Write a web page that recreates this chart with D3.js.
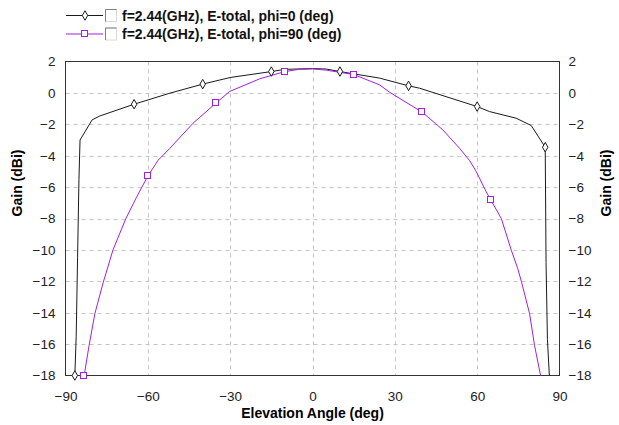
<!DOCTYPE html>
<html>
<head>
<meta charset="utf-8">
<script src="https://cdn.jsdelivr.net/npm/d3@7"></script>
<style>
  html, body { margin: 0; padding: 0; background: #fff; }
  svg { display: block; }
  text { font-family: "Liberation Sans", Arial, sans-serif; }
</style>
</head>
<body>
<svg id="chart" width="619" height="425"></svg>
<script>
// Elevation cut, phi = 0 deg: [angle (deg), gain (dBi)]
const phi0 = [
  [-86.6, -18], [-86.1, -15.5], [-85.6, -10.5], [-85.1, -5.5], [-84.7, -3.0],
  [-80.3, -1.72], [-77.5, -1.47], [-65, -0.72], [-52, -0.02], [-40, 0.56],
  [-30, 0.98], [-15, 1.36], [-10, 1.5], [0, 1.55], [5, 1.52], [10, 1.36],
  [24.5, 0.94], [35, 0.45], [39, 0.30], [60, -0.87], [64.5, -1.19],
  [74.2, -1.61], [79.7, -2.08], [84.8, -3.46], [85.1, -10.8], [85.6, -15.7],
  [86.3, -18]
];
// Elevation cut, phi = 90 deg
const phi90 = [
  [-83.2, -18], [-81.4, -16.08], [-79.3, -14.06], [-76.3, -12.1], [-72.7, -10.0],
  [-68, -8.0], [-64, -6.6], [-60, -5.3], [-56.3, -4.3], [-52, -3.53],
  [-43.5, -1.93], [-35, -0.62], [-30.2, 0.09], [-19.2, 0.9], [-10, 1.36],
  [-5, 1.5], [0, 1.53], [5, 1.45], [15, 1.17], [24.5, 0.51], [28, 0.05],
  [40, -1.23], [47.5, -2.36], [53.6, -3.53], [57.2, -4.3], [59.7, -5.02],
  [63.3, -6.3], [65, -6.83], [68.8, -8.0], [72.4, -10.0], [74.8, -11.2],
  [76.1, -12.0], [79.1, -14.06], [80.9, -16.08], [83.1, -18]
];
// Angles that carry a marker on each trace
const phi0Marks = [-86.6, -65, -40, -15, 10, 35, 60, 84.8];
const phi90Marks = [-83.2, -60, -35, -10, 15, 40, 65];

const xTicks = [-90, -60, -30, 0, 30, 60, 90];
const yTicks = [2, 0, -2, -4, -6, -8, -10, -12, -14, -16, -18];
const legendLabels = [
  "f=2.44(GHz), E-total, phi=0 (deg)",
  "f=2.44(GHz), E-total, phi=90 (deg)"
];
const xTitle = "Elevation Angle (deg)";
const yTitle = "Gain (dBi)";

const colors = ["#1a1a1a", "#a020e0"];

const svg = d3.select("#chart");
const x = d3.scaleLinear().domain([-90, 90]).range([65.5, 559.5]);
const y = d3.scaleLinear().domain([-18, 2]).range([375.5, 61.5]);

// clip for the traces
svg.append("clipPath").attr("id", "plotClip")
  .append("rect")
  .attr("x", x(-90)).attr("y", y(2) - 4)
  .attr("width", x(90) - x(-90)).attr("height", y(-18) - y(2) + 8);

// dashed grid
const grid = svg.append("g");
grid.selectAll("line.v").data(xTicks.slice(1, -1)).join("line")
  .attr("x1", d => Math.round(x(d)) + 0.5).attr("x2", d => Math.round(x(d)) + 0.5)
  .attr("y1", y(2)).attr("y2", y(-18))
  .attr("stroke", "#c4c4c4").attr("stroke-dasharray", "4,4");
grid.selectAll("line.h").data(yTicks.slice(1, -1)).join("line")
  .attr("y1", d => Math.round(y(d)) + 0.5).attr("y2", d => Math.round(y(d)) + 0.5)
  .attr("x1", x(-90)).attr("x2", x(90))
  .attr("stroke", "#c4c4c4").attr("stroke-dasharray", "4,4");

// frame
svg.append("rect")
  .attr("x", x(-90)).attr("y", y(2))
  .attr("width", x(90) - x(-90)).attr("height", y(-18) - y(2))
  .attr("fill", "none").attr("stroke", "#333").attr("stroke-width", 1);

// axes (labels only)
const axL = d3.axisLeft(y).tickValues(yTicks).tickSize(0).tickPadding(10);
const axR = d3.axisRight(y).tickValues(yTicks).tickSize(0).tickPadding(9);
const axB = d3.axisBottom(x).tickValues(xTicks).tickSize(0).tickPadding(16);
function styleAxis(g) {
  g.select(".domain").remove();
  g.selectAll("text").attr("font-size", 13.5).attr("fill", "#222")
    .attr("font-family", "\"Liberation Sans\", Arial, sans-serif");
}
svg.append("g").attr("transform", `translate(${x(-90)},0)`).call(axL).call(styleAxis);
svg.append("g").attr("transform", `translate(${x(90)},0)`).call(axR).call(styleAxis);
svg.append("g").attr("transform", `translate(0,${y(-18)})`).call(axB).call(styleAxis);

// axis titles
svg.append("text").attr("x", (x(-90) + x(90)) / 2).attr("y", 418)
  .attr("text-anchor", "middle").attr("font-size", 14).attr("font-weight", "bold")
  .text(xTitle);
svg.append("text").attr("transform", "translate(22,183) rotate(-90)")
  .attr("text-anchor", "middle").attr("font-size", 14).attr("font-weight", "bold")
  .text(yTitle);
svg.append("text").attr("transform", "translate(611,183) rotate(-90)")
  .attr("text-anchor", "middle").attr("font-size", 14).attr("font-weight", "bold")
  .text(yTitle);

// traces
const line = d3.line().x(d => x(d[0])).y(d => y(d[1]));
const plot = svg.append("g").attr("clip-path", "url(#plotClip)");
[phi0, phi90].forEach((s, i) => {
  plot.append("path").datum(s).attr("d", line)
    .attr("fill", "none").attr("stroke", colors[i]).attr("stroke-width", 1);
});

const diamond = d3.symbol().type(d3.symbolDiamond).size(26);
function drawDiamond(g, cx, cy) {
  g.append("path").attr("d", diamond())
    .attr("transform", `translate(${cx},${cy})`)
    .attr("fill", "#fff").attr("stroke", colors[0]).attr("stroke-width", 1);
}
function drawSquare(g, cx, cy) {
  g.append("rect").attr("x", Math.round(cx) - 3.5).attr("y", Math.round(cy) - 3.5)
    .attr("width", 6).attr("height", 6)
    .attr("fill", "#fff").attr("stroke", colors[1]).attr("stroke-width", 1);
}
const mk = svg.append("g");
phi0Marks.forEach(a => {
  const p = phi0.find(d => d[0] === a);
  drawDiamond(mk, x(p[0]), y(p[1]));
});
phi90Marks.forEach(a => {
  const p = phi90.find(d => d[0] === a);
  drawSquare(mk, x(p[0]), y(p[1]));
});

// legend
const leg = svg.append("g");
legendLabels.forEach((lab, i) => {
  const cy = 15.5 + i * 18.5;
  leg.append("line").attr("x1", 66).attr("x2", 103).attr("y1", cy).attr("y2", cy)
    .attr("stroke", colors[i]).attr("stroke-width", 1);
  if (i === 0) drawDiamond(leg, 85, cy); else drawSquare(leg, 85, cy);
  // check box
  leg.append("rect").attr("x", 105.5).attr("y", cy - 6).attr("width", 11).attr("height", 12)
    .attr("fill", "#fff").attr("stroke", "#d8d8d8");
  leg.append("path").attr("d", `M105.5,${cy + 6}V${cy - 6}H116.5`)
    .attr("fill", "none").attr("stroke", "#808080");
  leg.append("text").attr("x", 122).attr("y", cy + 5)
    .attr("font-size", 14).attr("font-weight", "bold").attr("fill", "#111")
    .text(lab);
});
</script>
</body>
</html>
